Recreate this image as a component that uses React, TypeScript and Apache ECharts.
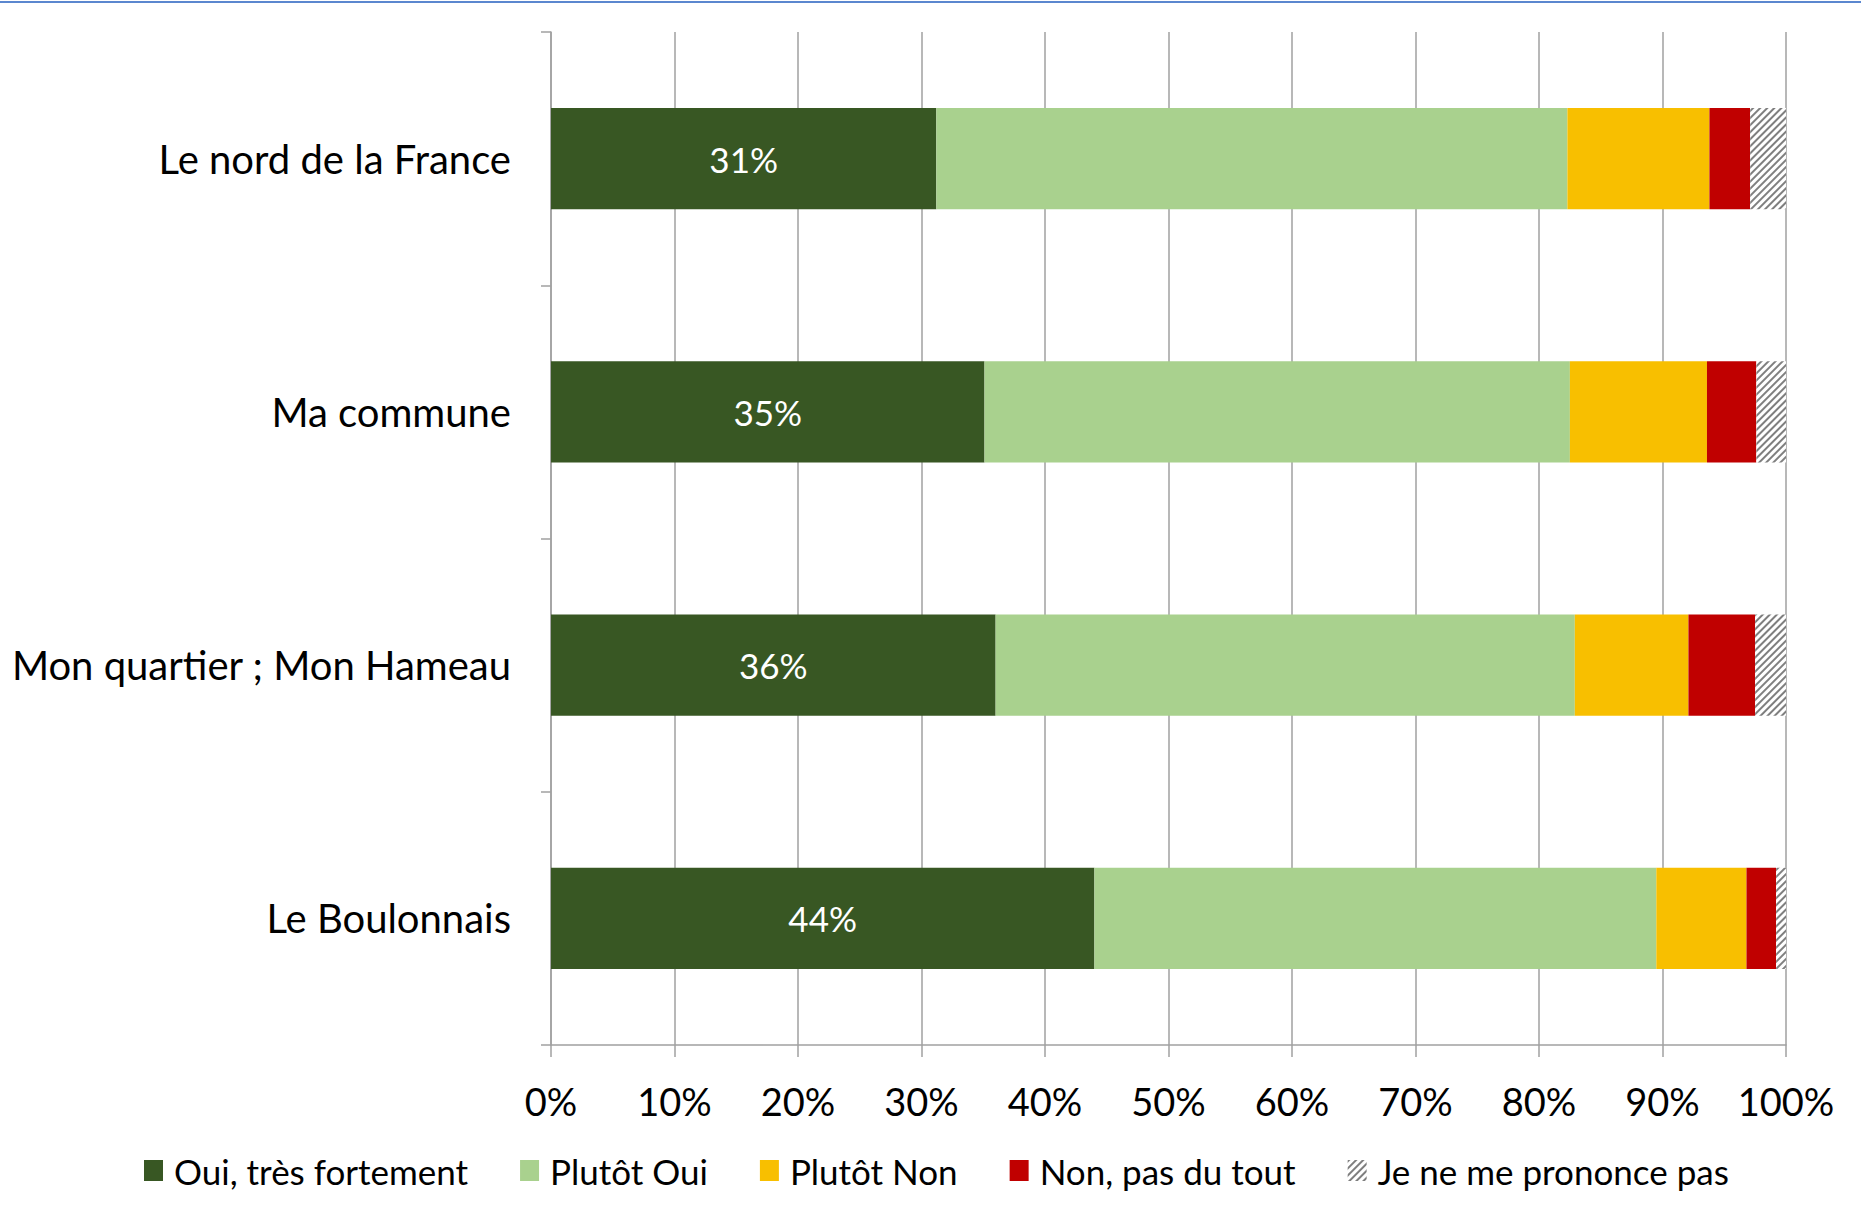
import React, { useEffect, useRef } from "react";
import * as echarts from "echarts";

const categories = ["Le nord de la France", "Ma commune", "Mon quartier ; Mon Hameau", "Le Boulonnais"];
const seriesNames = ["Oui, très fortement", "Plutôt Oui", "Plutôt Non", "Non, pas du tout", "Je ne me prononce pas"];
const ouiTres = [31.2, 35.1, 36.0, 44.0];
const plutotOui = [51.1, 47.4, 46.9, 45.5];
const plutotNon = [11.5, 11.1, 9.2, 7.3];
const nonPas = [3.3, 4.0, 5.4, 2.4];
const nsp = [2.9, 2.4, 2.5, 0.8];
const xTicks = [0, 10, 20, 30, 40, 50, 60, 70, 80, 90, 100];

const colors = ["#385723", "#a9d18e", "#f8bf00", "#c00000", "#ffffff"];
const FONT = "Lato, 'Open Sans', sans-serif";

export default function App() {
  const ref = useRef<HTMLDivElement>(null);
  useEffect(() => {
    if (!ref.current) return;
    const chart = echarts.init(ref.current, null, { renderer: "svg" });
    const data = [ouiTres, plutotOui, plutotNon, nonPas, nsp];
    const hatch = {
      symbol: "rect",
      symbolSize: 1,
      color: "#7f7f7f",
      backgroundColor: "#ffffff",
      dashArrayX: [1, 0],
      dashArrayY: [2, 2.5],
      rotation: -Math.PI / 4,
    };
    const series = data.map((vals, i) => ({
      name: seriesNames[i],
      type: "bar",
      stack: "total",
      barCategoryGap: "60%",
      data: vals,
      itemStyle: i === 4 ? { color: "#ffffff", decal: hatch } : { color: colors[i] },
      label:
        i === 0
          ? {
              show: true,
              position: "inside",
              color: "#ffffff",
              fontSize: 35,
              fontFamily: FONT,
              formatter: (p: any) => Math.round(p.value) + "%",
            }
          : { show: false },
      emphasis: { disabled: true },
    }));
    chart.setOption({
      animation: false,
      aria: { enabled: false },
      textStyle: { fontFamily: FONT },
      grid: { left: 551, right: 75, top: 32, bottom: 169, containLabel: false },
      graphic: [
        { type: "rect", left: 0, top: 1, shape: { width: 1861, height: 2 }, style: { fill: "#5b87cf" } },
      ],
      legend: {
        bottom: 21,
        left: 139,
        icon: "rect",
        itemWidth: 19,
        itemHeight: 21,
        itemGap: 52,
        textStyle: { fontSize: 35, color: "#000", fontFamily: FONT, padding: [0, 0, 0, 6] },
        data: seriesNames,
        selectedMode: false,
      },
      xAxis: {
        type: "value",
        min: 0,
        max: 100,
        interval: 10,
        axisLine: { show: true, lineStyle: { color: "#a0a0a0", width: 1.5 } },
        axisTick: { show: true, length: 12, lineStyle: { color: "#a0a0a0", width: 1.5 } },
        splitLine: { show: true, lineStyle: { color: "#a0a0a0", width: 1.5 } },
        axisLabel: {
          fontSize: 38,
          color: "#000",
          margin: 37,
          fontFamily: FONT,
          formatter: (v: number) => (xTicks.includes(v) ? v + "%" : ""),
        },
      },
      yAxis: {
        type: "category",
        data: categories,
        inverse: true,
        axisLine: { show: true, lineStyle: { color: "#a0a0a0", width: 1.5 } },
        axisTick: { show: true, length: 10, lineStyle: { color: "#a0a0a0", width: 1.5 } },
        axisLabel: { fontSize: 40, color: "#000", margin: 40, fontFamily: FONT, padding: [0, 0, 4, 0] },
      },
      series,
    });
    return () => chart.dispose();
  }, []);
  return (
    <div
      ref={ref}
      style={{ position: "absolute", left: 0, top: 0, width: 1861, height: 1214, background: "#fff" }}
    />
  );
}
